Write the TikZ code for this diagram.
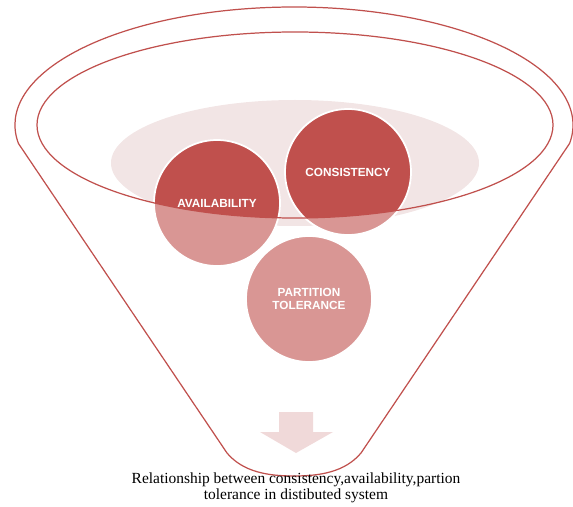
\documentclass[tikz,border=0pt]{standalone}
\usepackage{fontspec}
\setmainfont{Liberation Serif}
\newfontfamily\capfont{Liberation Sans}
\definecolor{capred}{HTML}{C0504D}
\definecolor{caplight}{HTML}{D99694}
\definecolor{cappale}{HTML}{F2E5E5}
\definecolor{cappink}{HTML}{F0D9D9}
\begin{document}
\begin{tikzpicture}[x=0.02cm,y=-0.02cm,
    ball/.style={circle,minimum size=2.52cm,inner sep=0pt,draw=white,line width=1pt,
      text=white,align=center,font=\capfont\bfseries\fontsize{6.7}{7.4}\selectfont}]
  \useasboundingbox (0,0) rectangle (573,506);

  % Pale disc in the mouth of the funnel
  \fill [cappale] (295,163) ellipse [x radius=184, y radius=63];

  % Funnel body: the rim arc, two sides and the rounded spout
  \draw [capred,line width=0.7pt] (294,125) ++(171:279 and 118)
    arc [start angle=171, end angle=369, x radius=279, y radius=118]
    -- (361,453) .. controls (345,472) and (320,476) .. (294,476)
    .. controls (268,476) and (243,472) .. (227,453) -- cycle;

  % The three balls, lighter below the rim
  \foreach \x/\y in {217/203, 348/172, 309/299} {
    \fill [caplight] (\x,\y) circle (63);
  }
  \begin{scope}
    \clip (295,125) ellipse [x radius=258, y radius=93];
    \foreach \x/\y in {217/203, 348/172, 309/299} {
      \fill [capred] (\x,\y) circle (63);
    }
  \end{scope}

  % Outlines and labels
  \foreach \name/\x/\y/\lab in {
    avail/217/203/AVAILABILITY,
    cons/348/172/CONSISTENCY,
    part/309/299/{PARTITION\\TOLERANCE}} {
    \node [ball] (\name) at (\x,\y) {\lab};
  }

  % Inner rim drawn over the balls
  \draw [capred,line width=0.7pt] (295,125) ellipse [x radius=258, y radius=93];

  % Down arrow in the spout
  \fill [cappink] (279,412) -- (313,412) -- (313,432) -- (333,432) -- (296,453)
    -- (260,432) -- (279,432) -- cycle;

  \node [font=\fontsize{8.8}{9}\selectfont, align=center] (caption) at (296,488)
    {Relationship between consistency,availability,partion\\tolerance in distibuted system};
\end{tikzpicture}
\end{document}
